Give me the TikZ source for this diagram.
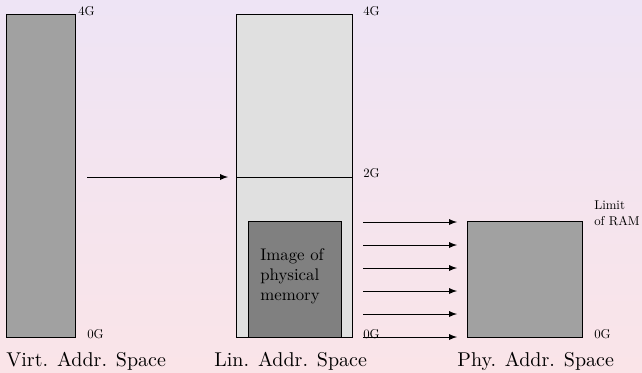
\documentclass[tikz,border=0pt]{standalone}
\usepackage{amsmath, amsfonts, amssymb}
\usepackage{xcolor}
\usepackage{tikz}

\definecolor{bgtop}{RGB}{238,228,245}
\definecolor{bgbottom}{RGB}{250,228,232}

\tikzset{
	space/.style={draw=black, line width=0.4pt, inner sep=0pt, anchor=south west},
	addr/.style={font=\normalsize, scale=0.64, inner sep=0pt, anchor=base west},
	title/.style={inner sep=0pt, anchor=base west},
}

\begin{document}
\begin{tikzpicture}[x=1pt, y=1pt]

\shade[top color=bgtop, bottom color=bgbottom] (0,0) rectangle (321,186);
\useasboundingbox (0,0) rectangle (321,186);

% the three spaces
\node[space, fill=black!37, minimum width=34.5pt, minimum height=161.5pt] (virt) at (3,17) {};
\node[space, fill=black!12, minimum width=58pt, minimum height=161.5pt] (lin) at (118,17) {};
\node[space, fill=black!50, minimum width=46.5pt, minimum height=58pt] (img) at (124,17) {};
\node[space, fill=black!37, minimum width=57.5pt, minimum height=58pt] (phy) at (233.5,17) {};

\draw (lin.west |- 0,97.5) -- (lin.east |- 0,97.5);

\node[addr, scale=0.84/0.64, align=left, anchor=north west] (imgtext) at (130,62) {Image of\\physical\\memory};

% labels
\node[addr] (v4) at (39,178.5) {4G};
\node[addr] (v0) at (43.5,17) {0G};
\node[addr] (l4) at (181.5,178.5) {4G};
\node[addr] (l2) at (181.5,97.5) {2G};
\node[addr] (l0) at (181.5,17) {0G};
\node[addr] (p0) at (297,17) {0G};
\node[addr, align=left] (ram) at (297,73.5) {Limit\\of RAM};

\node[title] (vname) at (3,3) {Virt. Addr. Space};
\node[title] (lname) at (107,3) {Lin. Addr. Space};
\node[title] (pname) at (228.5,3) {Phy. Addr. Space};

% mappings
\coordinate (mapfrom) at (43.5,97.5);
\coordinate (mapto) at (114,97.5);
\draw[-latex] (mapfrom)--(mapto);

\foreach \i in {0,...,5}{
	\coordinate (from\i) at (181.5,17.5+\i*11.5);
	\coordinate (to\i) at (228.5,17.5+\i*11.5);
	\draw[-latex] (from\i)--(to\i);
}

\end{tikzpicture}
\end{document}
